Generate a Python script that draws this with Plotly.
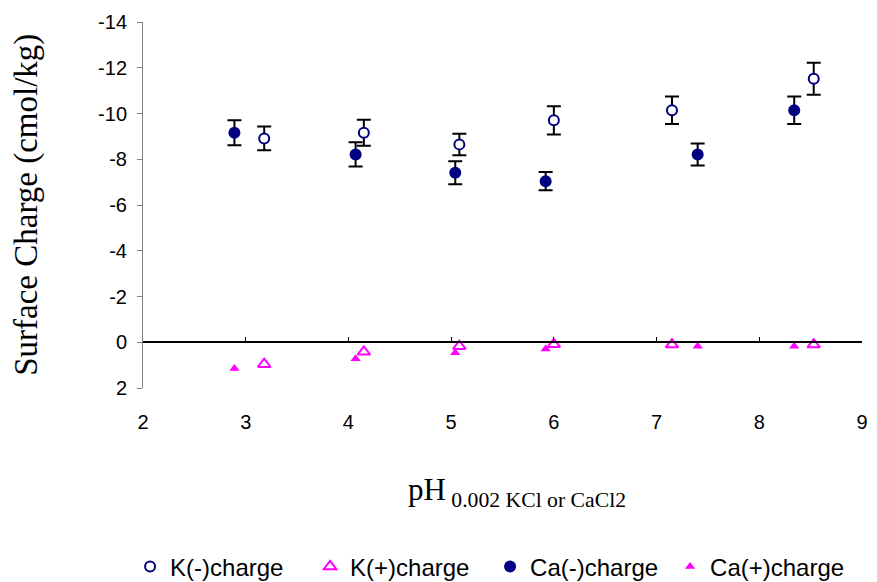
import plotly.graph_objects as go

# pH of the equilibrating solution for each series
k_ph = [3.18, 4.15, 5.08, 6.00, 7.15, 8.53]
ca_ph = [2.89, 4.07, 5.04, 5.92, 7.40, 8.34]

# surface charge (cmol/kg); negative charge plotted upward on a reversed axis
k_neg = [-8.91, -9.16, -8.65, -9.70, -10.14, -11.52]
k_neg_err = [0.52, 0.57, 0.47, 0.62, 0.60, 0.70]
k_pos = [0.96, 0.42, 0.17, 0.09, 0.10, 0.10]

ca_neg = [-9.16, -8.21, -7.41, -7.04, -8.21, -10.14]
ca_neg_err = [0.55, 0.53, 0.50, 0.40, 0.48, 0.60]
ca_pos = [1.15, 0.72, 0.46, 0.30, 0.17, 0.17]

y_ticks = [-14, -12, -10, -8, -6, -4, -2, 0, 2]
y_tick_labels = ["-14", "-12", "-10", "-8", "-6", "-4", "-2", "0", "2"]
x_ticks = [2, 3, 4, 5, 6, 7, 8, 9]

NAVY = "#000080"
MAGENTA = "#FF00FF"
err_style = dict(type="data", visible=True, color="black", thickness=2, width=7)

fig = go.Figure()

fig.add_trace(go.Scatter(
    x=k_ph, y=k_neg, mode="markers", name="K(-)charge",
    error_y=dict(array=k_neg_err, **err_style),
    marker=dict(symbol="circle", size=10, color="white", line=dict(color=NAVY, width=2)),
))
fig.add_trace(go.Scatter(
    x=k_ph, y=k_pos, mode="markers", name="K(+)charge",
    marker=dict(symbol="triangle-up-open", size=11, color=MAGENTA, line=dict(color=MAGENTA, width=2)),
))
fig.add_trace(go.Scatter(
    x=ca_ph, y=ca_neg, mode="markers", name="Ca(-)charge",
    error_y=dict(array=ca_neg_err, **err_style),
    marker=dict(symbol="circle", size=12, color=NAVY),
))
fig.add_trace(go.Scatter(
    x=ca_ph, y=ca_pos, mode="markers", name="Ca(+)charge",
    marker=dict(symbol="triangle-up", size=9, color=MAGENTA),
))
# empty trace so the axis crossing at zero is rendered
fig.add_trace(go.Scatter(x=[None], y=[None], xaxis="x2", showlegend=False, hoverinfo="skip"))

fig.update_layout(
    width=877, height=582,
    margin=dict(l=143, r=15, t=22, b=194, autoexpand=False),
    paper_bgcolor="white", plot_bgcolor="white",
    font=dict(family="Liberation Sans, Arial, sans-serif", color="black"),
    showlegend=True,
    legend=dict(
        orientation="h", xref="container", yref="container",
        x=0.5588, xanchor="center", y=0.026, yanchor="middle",
        font=dict(size=24, family="Liberation Sans, Arial, sans-serif"),
        entrywidth=135, entrywidthmode="pixels",
        itemclick=False, tracegroupgap=0,
    ),
    xaxis=dict(
        range=[2, 9], tickvals=x_ticks, showgrid=False, zeroline=False,
        showline=False, ticks="", tickfont=dict(size=20),
        ticklabelstandoff=20,
    ),
    xaxis2=dict(
        range=[2, 9], overlaying="x", anchor="free", position=0.125,
        tickvals=x_ticks, showticklabels=False, showgrid=False, zeroline=False,
        showline=True, linecolor="black", linewidth=1.5,
        ticks="inside", ticklen=5, tickcolor="black", tickwidth=1,
    ),
    yaxis=dict(
        range=[2, -14], tickvals=y_ticks, ticktext=y_tick_labels,
        showgrid=False, zeroline=False, showline=True, linecolor="#808080",
        linewidth=1, ticks="outside", ticklen=5, tickcolor="#808080",
        tickfont=dict(size=20), ticklabelstandoff=6,
    ),
    annotations=[
        dict(
            text="Surface Charge (cmol/kg)", textangle=-90,
            xref="paper", yref="paper", x=-0.163, y=0.5,
            xanchor="center", yanchor="middle", showarrow=False,
            font=dict(family="Liberation Serif, Times New Roman, serif", size=33),
        ),
        dict(
            text="pH<sub> 0.002 KCl or CaCl2</sub>",
            xref="paper", yref="paper", x=0.52, y=-0.285,
            xanchor="center", yanchor="middle", showarrow=False,
            font=dict(family="Liberation Serif, Times New Roman, serif", size=31),
        ),
    ],
)

fig.write_html("out.html")
